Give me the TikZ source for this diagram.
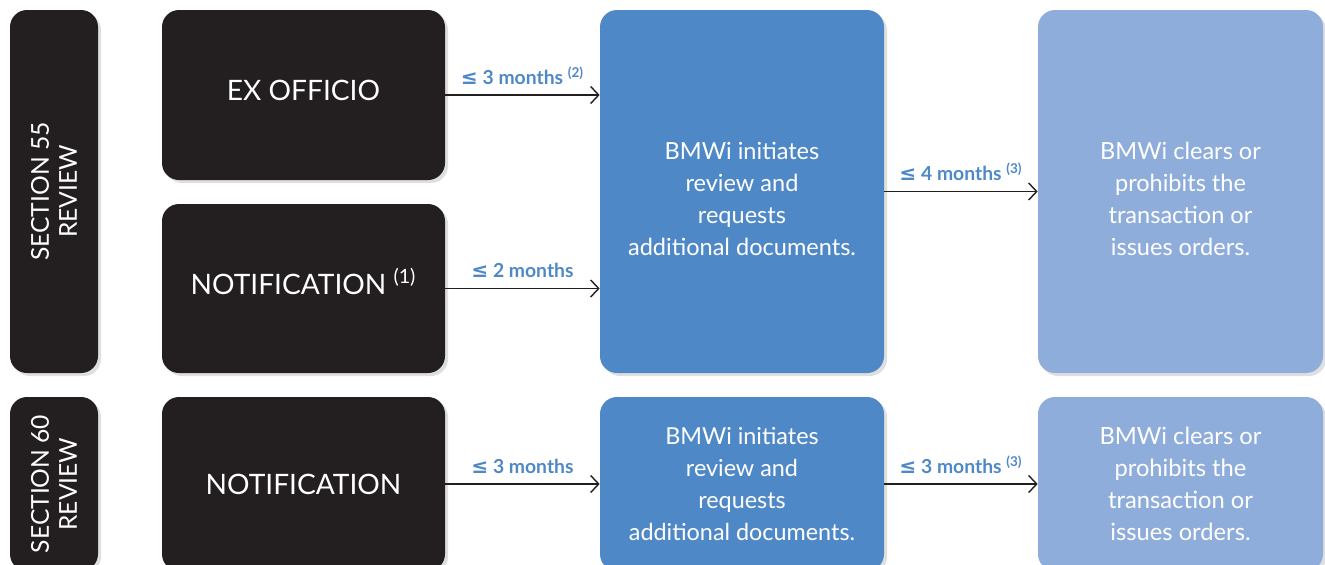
\documentclass[tikz,border=0pt]{standalone}
\usepackage{fontspec}
\setmainfont{Lato}
\newfontfamily\symfont{DejaVu Sans}
\usetikzlibrary{arrows.meta,shadows}
\definecolor{boxblack}{HTML}{231F20}
\definecolor{bmwblue}{HTML}{4F88C7}
\definecolor{paleblue}{HTML}{8FADDA}
\newcommand{\atmost}{{\symfont\bfseries\fontsize{11.5}{13}\selectfont ≤}}
\tikzset{
    box/.style={rectangle, rounded corners=0.34cm, inner sep=0pt, text=white, align=center,
        drop shadow={shadow xshift=0.06cm, shadow yshift=-0.06cm, opacity=0.25}},
    darkbox/.style={box, fill=boxblack},
    bluebox/.style={box, fill=bmwblue, minimum width=5.68cm, font=\fontsize{13.3}{18.2}\selectfont},
    palebox/.style={box, fill=paleblue, minimum width=5.70cm, font=\fontsize{13.5}{18.2}\selectfont},
    boxtext/.style={text=white, align=center, font=\fontsize{13.4}{18.2}\selectfont},
    flow/.style={-{Straight Barb[length=0.16cm, width=0.34cm]}, line width=0.8pt, draw=boxblack},
    months/.style={above, inner sep=0pt, yshift=0.2cm, text=bmwblue, font=\bfseries\fontsize{11}{13}\selectfont}
}
\begin{document}
\begin{tikzpicture}
    \useasboundingbox (0, 0) rectangle (26.5, -11.28);
    \clip (0, 0) rectangle (26.5, -11.28);
                    % section 55
                    \node[darkbox, minimum width=1.76cm, minimum height=7.26cm] (sec55) at (1.08, -3.83){};
                        \node[rotate=90, text=white, align=center, font=\fontsize{14}{16}\selectfont] at (sec55){SECTION 55\\REVIEW};
                    \node[darkbox, minimum width=5.66cm, minimum height=3.4cm] (exoff) at (6.07, -1.9){};
                        \node[text=white, font=\fontsize{16}{18}\selectfont] at ([yshift=0.1cm]exoff.center){EX OFFICIO};
                    \node[darkbox, minimum width=5.66cm, minimum height=3.38cm] (notif55) at (6.07, -5.77){};
                        \node[text=white, font=\fontsize{16}{18}\selectfont] at ([yshift=0.15cm]notif55.center){NOTIFICATION \textsuperscript{(1)}};
                    \node[bluebox, minimum height=7.26cm] (init55) at (14.84, -3.83){};
                        \node[boxtext] at ([yshift=-0.14cm]init55.center){BMWi initiates\\review and\\requests\\additional documents.};
                    \node[palebox, minimum height=7.26cm] (clear55) at (23.61, -3.83){};
                        \node[boxtext] at ([yshift=-0.14cm]clear55.center){BMWi clears or\\prohibits the\\transaction or\\issues orders.};
                    % section 60
                    \node[darkbox, minimum width=1.76cm, minimum height=3.48cm] (sec60) at (1.08, -9.68){};
                        \node[rotate=90, text=white, align=center, font=\fontsize{14}{16}\selectfont] at (sec60){SECTION 60\\REVIEW};
                    \node[darkbox, minimum width=5.66cm, minimum height=3.48cm, font=\fontsize{16}{18}\selectfont] (notif60) at (6.07, -9.68){NOTIFICATION};
                    \node[bluebox, minimum height=3.48cm] (init60) at (14.84, -9.68){BMWi initiates\\review and\\requests\\additional documents.};
                    \node[palebox, minimum height=3.48cm] (clear60) at (23.61, -9.68){BMWi clears or\\prohibits the\\transaction or\\issues orders.};
                    % arrows
                    \draw[flow] (exoff.east) to node[months]{\atmost\ 3 months \textsuperscript{(2)}} (exoff.east -| init55.west);
                    \draw[flow] (notif55.east) to node[months]{\atmost\ 2 months} (notif55.east -| init55.west);
                    \draw[flow] (init55.east) to node[months]{\atmost\ 4 months \textsuperscript{(3)}} (clear55.west);
                    \draw[flow] (notif60.east) to node[months]{\atmost\ 3 months} (init60.west);
                    \draw[flow] (init60.east) to node[months]{\atmost\ 3 months \textsuperscript{(3)}} (clear60.west);
\end{tikzpicture}
\end{document}
